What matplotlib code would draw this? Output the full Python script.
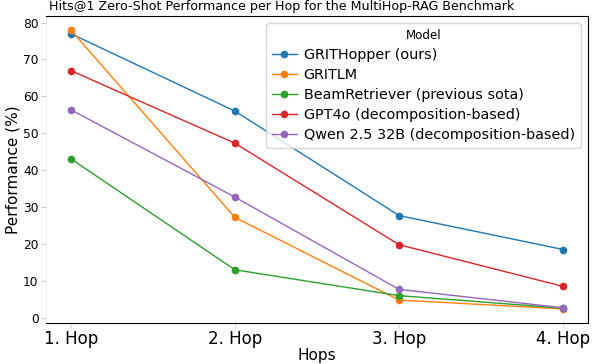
import matplotlib
matplotlib.use("Agg")
import matplotlib.pyplot as plt

hops = ["1. Hop", "2. Hop", "3. Hop", "4. Hop"]

grithopper = [77.0, 56.0, 27.7, 18.5]
gritlm = [78.0, 27.2, 4.8, 2.4]
beamretriever = [43.1, 13.0, 6.0, 2.6]
gpt4o = [67.0, 47.3, 19.8, 8.5]
qwen = [56.4, 32.7, 7.7, 2.7]

series = [
    ("GRITHopper (ours)", grithopper, "#1f77b4"),
    ("GRITLM", gritlm, "#ff7f0e"),
    ("BeamRetriever (previous sota)", beamretriever, "#2ca02c"),
    ("GPT4o (decomposition-based)", gpt4o, "#d62728"),
    ("Qwen 2.5 32B (decomposition-based)", qwen, "#9467bd"),
]

fig = plt.figure(figsize=(5.92, 3.64), dpi=100)
ax = fig.add_axes([0.078, 0.113, 0.915, 0.843])

for name, vals, col in series:
    ax.plot(hops, vals, marker="o", markersize=4.5, linewidth=1.0, color=col, label=name)

# title sits left of the axes centre in the original (figure was cropped)
fig.text(0.475, 0.983, "Hits@1 Zero-Shot Performance per Hop for the MultiHop-RAG Benchmark",
         fontsize=9.1, ha="center", va="center")
ax.set_xlabel("Hops", fontsize=11, labelpad=0)
ax.set_ylabel("Performance (%)", fontsize=11, labelpad=2)
ax.tick_params(axis="x", labelsize=12, color="#dddddd", pad=1.5)
ax.tick_params(axis="y", labelsize=8.8, color="#cccccc", pad=2)
ax.spines["left"].set_color("#eeeeee")

leg = ax.legend(title="Model", fontsize=10.4, title_fontsize=8.6, loc="upper right",
                handlelength=1.7, handletextpad=0.5, labelspacing=0.42,
                borderaxespad=0.5)

fig.savefig("out.png", dpi=100)
